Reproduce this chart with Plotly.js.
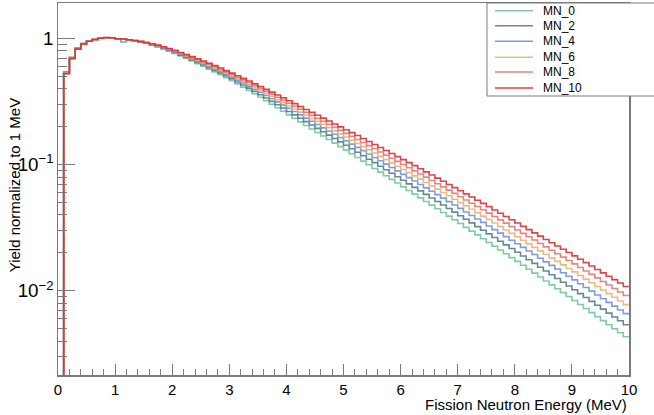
<!DOCTYPE html>
<html>
<head>
<meta charset="utf-8">
<script src="https://cdn.plot.ly/plotly-3.0.1.min.js"></script>
<style>html,body{margin:0;padding:0;background:#fff;}#chart{width:654px;height:415px;}</style>
</head>
<body>
<div id="chart"></div>
<script>
// Histogram: 100 bins of 0.1 MeV from 0 to 10 MeV.
const binLow = 0, binHigh = 10, nBins = 100;
const seriesNames = ["MN_0", "MN_2", "MN_4", "MN_6", "MN_8", "MN_10"];
const seriesColors = ["rgba(95,190,140,0.8)", "rgba(80,115,135,0.85)", "rgba(105,140,215,0.85)",
                      "rgba(230,175,105,0.85)", "rgba(228,110,110,0.85)", "rgba(215,50,50,0.9)"];

// Bin contents as log10(yield normalized to 1 MeV).
// Bin 0 (0-0.1 MeV) lies below the plotted range.
const log10_MN_0 = [-3,
 -0.262,-0.148,-0.075,-0.038,-0.018,-0.006,0.004,0.008,0.008,
 0,
 -0.004,-0.010,-0.018,-0.027,-0.038,-0.051,-0.065,-0.081,-0.099,-0.118,
 -0.137,-0.157,-0.177,-0.198,-0.219,-0.241,-0.263,-0.286,-0.309,-0.333,
 -0.358,-0.384,-0.410,-0.437,-0.464,-0.492,-0.520,-0.548,-0.576,-0.604,
 -0.632,-0.660,-0.688,-0.716,-0.744,-0.772,-0.800,-0.828,-0.856,-0.884,
 -0.913,-0.942,-0.971,-1.000,-1.029,-1.058,-1.087,-1.116,-1.145,-1.175,
 -1.204,-1.233,-1.262,-1.291,-1.320,-1.349,-1.378,-1.407,-1.436,-1.466,
 -1.496,-1.526,-1.556,-1.586,-1.616,-1.646,-1.676,-1.706,-1.736,-1.766,
 -1.797,-1.828,-1.859,-1.890,-1.921,-1.952,-1.983,-2.014,-2.045,-2.076,
 -2.108,-2.140,-2.172,-2.204,-2.236,-2.268,-2.300,-2.332,-2.364];

const log10_MN_2 = [-3,
 -0.266,-0.150,-0.077,-0.039,-0.018,-0.006,0.004,0.008,0.008,
 0,
 -0.004,-0.010,-0.017,-0.026,-0.036,-0.048,-0.062,-0.077,-0.094,-0.112,
 -0.130,-0.149,-0.169,-0.189,-0.209,-0.230,-0.251,-0.273,-0.296,-0.319,
 -0.343,-0.367,-0.392,-0.418,-0.444,-0.470,-0.497,-0.524,-0.550,-0.577,
 -0.604,-0.631,-0.658,-0.684,-0.711,-0.738,-0.765,-0.792,-0.818,-0.845,
 -0.873,-0.900,-0.928,-0.956,-0.983,-1.011,-1.039,-1.067,-1.095,-1.123,
 -1.151,-1.179,-1.207,-1.235,-1.263,-1.291,-1.319,-1.347,-1.375,-1.404,
 -1.432,-1.461,-1.490,-1.519,-1.548,-1.577,-1.606,-1.635,-1.664,-1.693,
 -1.723,-1.753,-1.782,-1.812,-1.842,-1.872,-1.902,-1.931,-1.961,-1.991,
 -2.022,-2.053,-2.083,-2.114,-2.145,-2.176,-2.207,-2.237,-2.268];

const log10_MN_4 = [-3,
 -0.270,-0.153,-0.079,-0.040,-0.019,-0.006,0.004,0.008,0.008,
 0,
 -0.026,-0.009,-0.016,-0.024,-0.034,-0.046,-0.059,-0.073,-0.089,-0.107,
 -0.124,-0.142,-0.161,-0.180,-0.200,-0.220,-0.240,-0.262,-0.283,-0.305,
 -0.329,-0.352,-0.376,-0.401,-0.425,-0.451,-0.476,-0.501,-0.527,-0.552,
 -0.578,-0.604,-0.630,-0.655,-0.681,-0.707,-0.732,-0.758,-0.784,-0.809,
 -0.836,-0.862,-0.888,-0.915,-0.942,-0.968,-0.995,-1.022,-1.048,-1.076,
 -1.102,-1.129,-1.156,-1.183,-1.210,-1.237,-1.264,-1.292,-1.319,-1.346,
 -1.374,-1.402,-1.430,-1.457,-1.485,-1.514,-1.542,-1.570,-1.598,-1.626,
 -1.655,-1.684,-1.712,-1.741,-1.770,-1.798,-1.827,-1.856,-1.884,-1.913,
 -1.943,-1.973,-2.002,-2.032,-2.062,-2.091,-2.121,-2.151,-2.180];

const log10_MN_6 = [-3,
 -0.273,-0.155,-0.080,-0.041,-0.019,-0.007,0.004,0.008,0.008,
 0,
 -0.003,-0.009,-0.015,-0.023,-0.033,-0.044,-0.056,-0.070,-0.086,-0.102,
 -0.119,-0.137,-0.155,-0.173,-0.192,-0.212,-0.232,-0.252,-0.273,-0.295,
 -0.317,-0.340,-0.363,-0.386,-0.410,-0.434,-0.459,-0.483,-0.508,-0.532,
 -0.557,-0.582,-0.607,-0.632,-0.656,-0.681,-0.706,-0.731,-0.756,-0.780,
 -0.805,-0.831,-0.856,-0.882,-0.907,-0.933,-0.959,-0.985,-1.011,-1.037,
 -1.063,-1.088,-1.114,-1.141,-1.167,-1.193,-1.220,-1.246,-1.273,-1.300,
 -1.326,-1.353,-1.380,-1.407,-1.434,-1.462,-1.489,-1.517,-1.544,-1.571,
 -1.599,-1.627,-1.655,-1.683,-1.710,-1.738,-1.766,-1.794,-1.822,-1.849,
 -1.878,-1.907,-1.936,-1.965,-1.993,-2.022,-2.051,-2.080,-2.109];

const log10_MN_8 = [-3,
 -0.275,-0.156,-0.081,-0.041,-0.020,-0.007,0.004,0.009,0.008,
 0,
 -0.003,-0.008,-0.015,-0.022,-0.031,-0.042,-0.054,-0.067,-0.082,-0.098,
 -0.114,-0.131,-0.148,-0.166,-0.185,-0.203,-0.223,-0.243,-0.263,-0.284,
 -0.306,-0.327,-0.349,-0.372,-0.395,-0.418,-0.441,-0.464,-0.488,-0.512,
 -0.536,-0.560,-0.584,-0.608,-0.632,-0.656,-0.679,-0.703,-0.727,-0.751,
 -0.775,-0.799,-0.823,-0.848,-0.873,-0.898,-0.923,-0.948,-0.973,-0.998,
 -1.023,-1.048,-1.073,-1.098,-1.124,-1.150,-1.175,-1.201,-1.227,-1.253,
 -1.279,-1.305,-1.331,-1.356,-1.383,-1.410,-1.437,-1.463,-1.490,-1.517,
 -1.544,-1.571,-1.597,-1.624,-1.651,-1.678,-1.705,-1.732,-1.759,-1.786,
 -1.814,-1.842,-1.869,-1.897,-1.925,-1.953,-1.981,-2.009,-2.037];

const log10_MN_10 = [-3,
 -0.278,-0.158,-0.082,-0.042,-0.020,-0.007,0.004,0.009,0.008,
 0,
 -0.003,-0.008,-0.014,-0.021,-0.030,-0.040,-0.051,-0.064,-0.078,-0.093,
 -0.109,-0.125,-0.142,-0.159,-0.177,-0.195,-0.214,-0.233,-0.253,-0.273,
 -0.294,-0.315,-0.336,-0.358,-0.380,-0.402,-0.424,-0.446,-0.469,-0.492,
 -0.515,-0.538,-0.561,-0.584,-0.607,-0.630,-0.653,-0.676,-0.699,-0.722,
 -0.745,-0.768,-0.791,-0.815,-0.839,-0.863,-0.887,-0.911,-0.935,-0.959,
 -0.983,-1.007,-1.031,-1.056,-1.081,-1.106,-1.131,-1.156,-1.181,-1.206,
 -1.231,-1.256,-1.281,-1.306,-1.332,-1.358,-1.384,-1.410,-1.436,-1.462,
 -1.488,-1.514,-1.540,-1.566,-1.592,-1.618,-1.644,-1.670,-1.696,-1.722,
 -1.749,-1.776,-1.803,-1.830,-1.857,-1.884,-1.911,-1.938,-1.965];

const seriesLog10 = [log10_MN_0, log10_MN_2, log10_MN_4, log10_MN_6, log10_MN_8, log10_MN_10];

const xTickVals = [0,1,2,3,4,5,6,7,8,9,10];
const xTickText = ["0","1","2","3","4","5","6","7","8","9","10"];
const xTitle = "Fission Neutron Energy (MeV)";
const yTitle = "Yield normalized to 1 MeV";

// bin edges
const binW = (binHigh - binLow) / nBins;
const edges = [];
for (let i = 0; i <= nBins; i++) edges.push(+(binLow + i * binW).toFixed(4));

const traces = seriesNames.map((name, k) => {
  const vals = seriesLog10[k].map(v => Math.pow(10, v));
  return {
    type: "scatter", mode: "lines", name: name,
    x: edges,
    y: vals.concat([vals[vals.length - 1]]),
    line: {shape: "hv", color: seriesColors[k], width: 1.6},
    hoverinfo: "skip", showlegend: false
  };
});

const axisGray = "#7a7a7a";
const font = "Liberation Sans, Arial, Helvetica, sans-serif";

// ROOT-style legend box (paper coordinates), top-right, running off the canvas edge.
const legBox = {x0: 0.7513, x1: 1.06, y0: 0.750, y1: 1.0};
const legRowY = [0.9793, 0.9390, 0.8970, 0.8540, 0.8145, 0.7715];
const legLineX = [0.7653, 0.8319], legTextX = 0.8459;

const shapes = [{
  type: "rect", xref: "paper", yref: "paper",
  x0: legBox.x0, x1: legBox.x1, y0: legBox.y0, y1: legBox.y1,
  line: {color: axisGray, width: 1}, fillcolor: "#fff", layer: "above"
}];
const annotations = [{
  text: xTitle, xref: "paper", yref: "paper", x: 1, y: 0,
  xanchor: "right", yanchor: "top", yshift: -19, showarrow: false,
  font: {family: font, size: 15, color: "#000"}
}, {
  text: yTitle, xref: "paper", yref: "paper", x: -0.077, y: 0.51,
  xanchor: "center", yanchor: "middle", textangle: -90, showarrow: false,
  font: {family: font, size: 15, color: "#000"}
}];
seriesNames.forEach((name, k) => {
  shapes.push({
    type: "line", xref: "paper", yref: "paper",
    x0: legLineX[0], x1: legLineX[1], y0: legRowY[k], y1: legRowY[k],
    line: {color: seriesColors[k], width: 1.6}, layer: "above"
  });
  annotations.push({
    text: name, xref: "paper", yref: "paper", x: legTextX, y: legRowY[k],
    xanchor: "left", yanchor: "middle", showarrow: false,
    font: {family: font, size: 12, color: "#000"}
  });
});

const layout = {
  width: 654, height: 415,
  margin: {l: 58, r: 25, t: 3, b: 40, pad: 0},
  paper_bgcolor: "#fff", plot_bgcolor: "#fff",
  font: {family: font, size: 15, color: "#000"},
  showlegend: false,
  xaxis: {
    range: [binLow, binHigh], showgrid: false, zeroline: false,
    showline: true, mirror: true, linecolor: axisGray, linewidth: 1.5,
    ticks: "inside", ticklen: 11, tickcolor: axisGray, tickwidth: 1,
    tickvals: xTickVals, ticktext: xTickText,
    tickfont: {family: font, size: 15, color: "#000"},
    minor: {dtick: 0.2, ticks: "inside", ticklen: 6, tickcolor: axisGray, tickwidth: 1, showgrid: false}
  },
  yaxis: {
    type: "log", range: [-2.667, 0.283], showgrid: false, zeroline: false,
    showline: true, mirror: true, linecolor: axisGray, linewidth: 1.5,
    ticks: "inside", ticklen: 17, tickcolor: axisGray, tickwidth: 1,
    dtick: 1, exponentformat: "power",
    tickfont: {family: font, size: 15, color: "#000"},
    minor: {dtick: "D1", ticks: "inside", ticklen: 9, tickcolor: axisGray, tickwidth: 1, showgrid: false}
  },
  shapes: shapes,
  annotations: annotations
};

Plotly.newPlot("chart", traces, layout, {displayModeBar: false, staticPlot: true});
</script>
</body>
</html>
